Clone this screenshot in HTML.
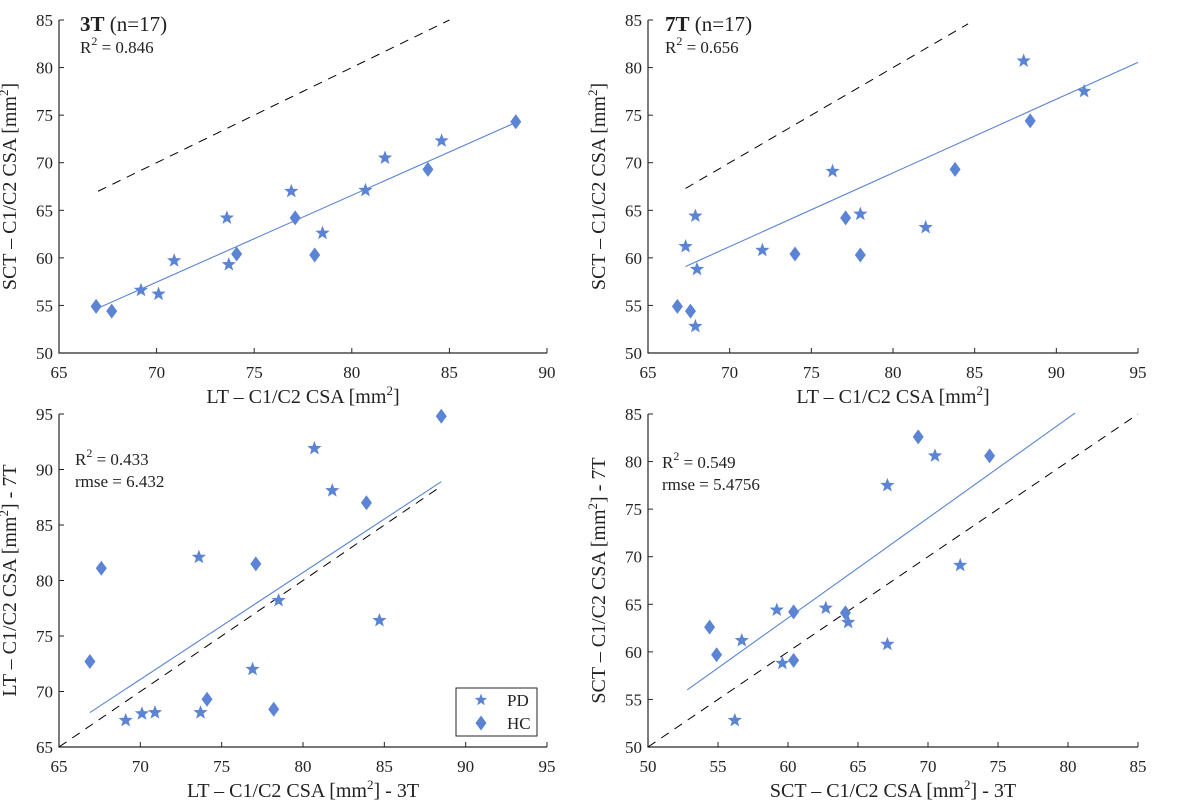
<!DOCTYPE html>
<html><head><meta charset="utf-8">
<style>
html,body{margin:0;padding:0;background:#fff;}
svg{display:block;font-family:"Liberation Serif",serif;}
</style></head>
<body>
<svg id="fig" width="1179" height="803" viewBox="0 0 1179 803" xmlns="http://www.w3.org/2000/svg"></svg>
<script>
// ---- Panel 1: LT 3T vs SCT 3T ----
const p1HCx = [66.9, 67.7, 74.1, 77.1, 78.1, 83.9, 88.4];
const p1HCy = [54.9, 54.4, 60.4, 64.2, 60.3, 69.3, 74.3];
const p1PDx = [69.2, 70.1, 70.9, 73.6, 73.7, 76.9, 78.5, 80.7, 81.7, 84.6];
const p1PDy = [56.6, 56.2, 59.7, 64.2, 59.3, 67.0, 62.6, 67.1, 70.5, 72.3];
// ---- Panel 2: LT 7T vs SCT 7T ----
const p2HCx = [66.8, 67.6, 74.0, 77.1, 78.0, 83.8, 88.4];
const p2HCy = [54.9, 54.4, 60.4, 64.2, 60.3, 69.3, 74.4];
const p2PDx = [67.3, 67.9, 68.0, 67.9, 72.0, 76.3, 78.0, 82.0, 88.0, 91.7];
const p2PDy = [61.2, 64.4, 58.8, 52.8, 60.8, 69.1, 64.6, 63.2, 80.7, 77.5];
// ---- Panel 3: LT 3T vs LT 7T ----
const p3HCx = [88.5, 83.9, 77.1, 67.6, 66.9, 74.1, 78.2];
const p3HCy = [94.8, 87.0, 81.5, 81.1, 72.7, 69.3, 68.4];
const p3PDx = [80.7, 81.8, 73.6, 78.5, 84.7, 76.9, 69.1, 70.1, 70.9, 73.7];
const p3PDy = [91.9, 88.1, 82.1, 78.2, 76.4, 72.0, 67.4, 68.0, 68.1, 68.1];
// ---- Panel 4: SCT 3T vs SCT 7T ----
const p4HCx = [69.3, 74.4, 54.4, 54.9, 60.4, 60.4, 64.1];
const p4HCy = [82.6, 80.6, 62.6, 59.7, 64.2, 59.1, 64.1];
const p4PDx = [70.5, 67.1, 72.3, 67.1, 62.7, 64.3, 59.2, 56.7, 59.6, 56.2];
const p4PDy = [80.6, 77.5, 69.1, 60.8, 64.6, 63.1, 64.4, 61.2, 58.8, 52.8];
// fitted line coefficients (slope, intercept) as reported in the figure
const fitSlope = [0.912, 0.7745, 0.963, 1.0505];
const fitIntercept = [-6.39, 6.97, 3.68, 0.533];
// tick labels
const ticksX1 = [65, 70, 75, 80, 85, 90];
const ticksY1 = [50, 55, 60, 65, 70, 75, 80, 85];
const ticksX2 = [65, 70, 75, 80, 85, 90, 95];
const ticksY2 = [50, 55, 60, 65, 70, 75, 80, 85];
const ticksX3 = [65, 70, 75, 80, 85, 90, 95];
const ticksY3 = [65, 70, 75, 80, 85, 90, 95];
const ticksX4 = [50, 55, 60, 65, 70, 75, 80, 85];
const ticksY4 = [50, 55, 60, 65, 70, 75, 80, 85];
// fit-line extent and identity-line extent (data units)
const fitRange1 = [66.9, 88.4], idRange1 = [67, 85];
const fitRange2 = [67.3, 95], idRange2 = [67.3, 84.6];
const fitRange3 = [66.9, 88.5], idRange3 = [65, 88.4];
const fitRange4 = [52.8, 80.5], idRange4 = [50, 85];

const NS = "http://www.w3.org/2000/svg";
const svg = document.getElementById('fig');
const BLUE = "#5b84d4";
function mk(tag, attrs, parent) {
  const e = document.createElementNS(NS, tag);
  for (const k in attrs) e.setAttribute(k, attrs[k]);
  (parent || svg).appendChild(e);
  return e;
}
function txt(s, x, y, size, anchor, parent, extra) {
  const t = mk('text', Object.assign({x: x, y: y, 'font-size': size, 'text-anchor': anchor || 'start', fill: '#222'}, extra || {}), parent);
  t.innerHTML = s;
  return t;
}
function starPath(cx, cy, r) {
  let d = '';
  for (let i = 0; i < 10; i++) {
    const a = -Math.PI / 2 + i * Math.PI / 5;
    const rr = i % 2 ? r * 0.42 : r;
    d += (i ? 'L' : 'M') + (cx + rr * Math.cos(a)).toFixed(2) + ',' + (cy + rr * Math.sin(a)).toFixed(2);
  }
  return d + 'Z';
}
function diamondPath(cx, cy) {
  return `M${cx},${cy - 7.5}L${cx + 5.5},${cy}L${cx},${cy + 7.5}L${cx - 5.5},${cy}Z`;
}

function panel(cfg) {
  const g = mk('g', {});
  
  
  const sx = v => cfg.px0 + (v - cfg.x0) / (cfg.x1 - cfg.x0) * (cfg.px1 - cfg.px0);
  const sy = v => cfg.py0 - (v - cfg.y0) / (cfg.y1 - cfg.y0) * (cfg.py0 - cfg.py1);
  const ax = mk('path', {d: `M${cfg.px0},${cfg.py1}V${cfg.py0}H${cfg.px1}`, stroke: '#262626', 'stroke-width': 1.2, fill: 'none'}, g);
  
  
  cfg.tx.forEach(v => {
    const x = sx(v);
    mk('line', {x1: x, x2: x, y1: cfg.py0, y2: cfg.py0 - 5, stroke: '#262626', 'stroke-width': 1}, g);
    const t = txt(v, x, cfg.py0 + 25, 17, 'middle', g);
    
    
  });
  cfg.ty.forEach(v => {
    const y = sy(v);
    mk('line', {x1: cfg.px0, x2: cfg.px0 + 5, y1: y, y2: y, stroke: '#262626', 'stroke-width': 1}, g);
    const t = txt(v, cfg.px0 - 6, y + 6, 17, 'end', g);
    
    
  });
  const id = mk('line', {x1: sx(cfg.idR[0]), y1: sy(cfg.idR[0]), x2: sx(cfg.idR[1]), y2: sy(cfg.idR[1]), stroke: '#000', 'stroke-width': 1, 'stroke-dasharray': '9,7'}, g);
  
  
  const b = cfg.b, a = cfg.a;
  const fl = mk('line', {x1: sx(cfg.fitR[0]), y1: sy(a + b * cfg.fitR[0]), x2: sx(cfg.fitR[1]), y2: sy(a + b * cfg.fitR[1]), stroke: BLUE, 'stroke-width': 1.1}, g);
  
  
  cfg.px.forEach((v, i) => {
    const p = mk('path', {d: starPath(sx(v), sy(cfg.py[i]), 7.5), fill: BLUE}, g);
    
    
  });
  cfg.hx.forEach((v, i) => {
    const p = mk('path', {d: diamondPath(sx(v), sy(cfg.hy[i])), fill: BLUE}, g);
    
    
  });
  const xt = txt(cfg.xl, (cfg.px0 + cfg.px1) / 2, cfg.py0 + 50, 20, 'middle', g);
  
  
  const ycx = cfg.px0 - 43, ycy = (cfg.py0 + cfg.py1) / 2;
  const yt = txt(cfg.yl, ycx, ycy, 20, 'middle', g, {transform: `rotate(-90 ${ycx} ${ycy})`});
  
  
  return g;
}

const mm = 'mm<tspan dy="-8" font-size="13">2</tspan><tspan dy="8">]</tspan>';
const g1 = panel({name: 'panel-3t', x0: 65, x1: 90, px0: 59, px1: 547, y0: 50, y1: 85, py0: 353, py1: 20,
  tx: ticksX1, ty: ticksY1, hx: p1HCx, hy: p1HCy, px: p1PDx, py: p1PDy, fitR: fitRange1, idR: idRange1,
  b: fitSlope[0], a: fitIntercept[0],
  xl: 'LT – C1/C2 CSA [' + mm, yl: 'SCT – C1/C2 CSA [' + mm});
const g2 = panel({name: 'panel-7t', x0: 65, x1: 95, px0: 648, px1: 1138, y0: 50, y1: 85, py0: 353, py1: 20,
  tx: ticksX2, ty: ticksY2, hx: p2HCx, hy: p2HCy, px: p2PDx, py: p2PDy, fitR: fitRange2, idR: idRange2,
  b: fitSlope[1], a: fitIntercept[1],
  xl: 'LT – C1/C2 CSA [' + mm, yl: 'SCT – C1/C2 CSA [' + mm});
const g3 = panel({name: 'panel-lt-3t-vs-7t', x0: 65, x1: 95, px0: 59, px1: 547, y0: 65, y1: 95, py0: 747, py1: 414,
  tx: ticksX3, ty: ticksY3, hx: p3HCx, hy: p3HCy, px: p3PDx, py: p3PDy, fitR: fitRange3, idR: idRange3,
  b: fitSlope[2], a: fitIntercept[2],
  xl: 'LT – C1/C2 CSA [' + mm + ' - 3T', yl: 'LT – C1/C2 CSA [' + mm + ' - 7T'});
const g4 = panel({name: 'panel-sct-3t-vs-7t', x0: 50, x1: 85, px0: 648, px1: 1138, y0: 50, y1: 85, py0: 747, py1: 414,
  tx: ticksX4, ty: ticksY4, hx: p4HCx, hy: p4HCy, px: p4PDx, py: p4PDy, fitR: fitRange4, idR: idRange4,
  b: fitSlope[3], a: fitIntercept[3],
  xl: 'SCT – C1/C2 CSA [' + mm + ' - 3T', yl: 'SCT – C1/C2 CSA [' + mm + ' - 7T'});

const sup2 = 'R<tspan dy="-8" font-size="12">2</tspan><tspan dy="8"> = ';
let t;
t = txt('<tspan font-weight="bold">3T</tspan> (n=17)', 80, 31, 21, 'start', g1);


t = txt(sup2 + '0.846</tspan>', 80, 53, 17, 'start', g1);


t = txt('<tspan font-weight="bold">7T</tspan> (n=17)', 665, 31, 21, 'start', g2);


t = txt(sup2 + '0.656</tspan>', 665, 53, 17, 'start', g2);


t = txt(sup2 + '0.433</tspan>', 75, 465, 17, 'start', g3);


t = txt('rmse = 6.432', 75, 487, 17, 'start', g3);


t = txt(sup2 + '0.549</tspan>', 662, 468, 17, 'start', g4);


t = txt('rmse = 5.4756', 662, 490, 17, 'start', g4);



const lg = mk('g', {}, g3);


mk('rect', {x: 456, y: 688, width: 81, height: 48, fill: '#fff', stroke: '#262626', 'stroke-width': 1}, lg);
const ls = mk('path', {d: starPath(481, 700, 6.5), fill: BLUE}, lg);


t = txt('PD', 507, 706, 17, 'start', lg);


const ld = mk('path', {d: diamondPath(481, 723), fill: BLUE}, lg);


t = txt('HC', 507, 729, 17, 'start', lg);


</script>
</body></html>
